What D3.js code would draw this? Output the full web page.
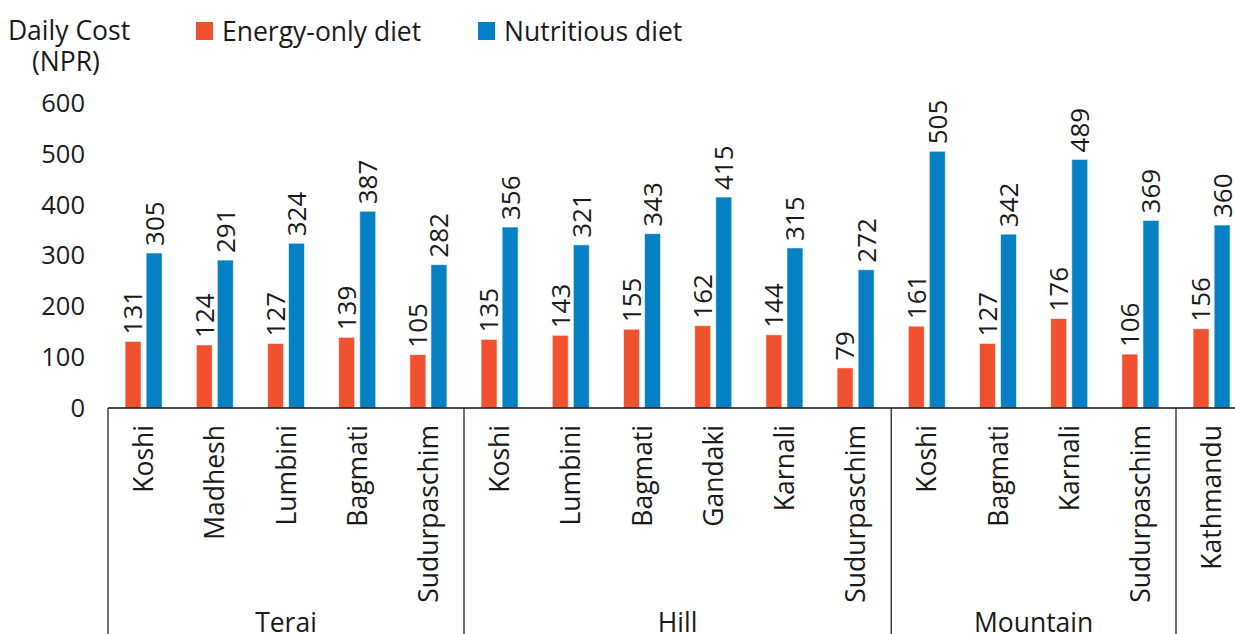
<!DOCTYPE html>
<html>
<head>
<meta charset="utf-8">
<script src="https://cdn.jsdelivr.net/npm/d3@7"></script>
<style>
  body { margin: 0; background: #fff; }
  svg { display: block; font-family: 'Open Sans', 'Noto Sans', sans-serif; }
  text { fill: #1a1a1a; }
</style>
</head>
<body>
<svg width="1235" height="634"></svg>
<script>
  const groups = ['Terai', 'Hill', 'Mountain', ''];
  const groupSizes = [5, 6, 4, 1];
  const regions = [
    'Koshi', 'Madhesh', 'Lumbini', 'Bagmati', 'Sudurpaschim',
    'Koshi', 'Lumbini', 'Bagmati', 'Gandaki', 'Karnali', 'Sudurpaschim',
    'Koshi', 'Bagmati', 'Karnali', 'Sudurpaschim',
    'Kathmandu'
  ];
  const energyOnly = [131, 124, 127, 139, 105, 135, 143, 155, 162, 144, 79, 161, 127, 176, 106, 156];
  const nutritious = [305, 291, 324, 387, 282, 356, 321, 343, 415, 315, 272, 505, 342, 489, 369, 360];
  const yTicks = [0, 100, 200, 300, 400, 500, 600];

  const seriesKeys = ['energy', 'nutritious'];
  const seriesNames = { energy: 'Energy-only diet', nutritious: 'Nutritious diet' };
  const colors = { energy: '#f0522f', nutritious: '#0580c4' };

  const svg = d3.select('svg');
  const margin = { left: 108, top: 103, baseline: 408 };
  const catStep = 71.2;
  const fontSize = 26.5;

  const data = regions.map((r, i) => ({
    id: i,
    region: r,
    energy: energyOnly[i],
    nutritious: nutritious[i]
  }));

  const x0 = d3.scaleBand()
    .domain(data.map(d => d.id))
    .range([margin.left, margin.left + catStep * data.length])
    .padding(0);

  const x1 = d3.scaleBand()
    .domain(seriesKeys)
    .range([0, x0.bandwidth()])
    .paddingInner(0.24)
    .paddingOuter(0.81);

  const y = d3.scaleLinear()
    .domain([0, 600])
    .range([margin.baseline, margin.top]);

  // y tick labels (no axis line)
  svg.append('g').selectAll('text').data(yTicks)
    .enter().append('text')
    .attr('x', 85)
    .attr('y', d => y(d))
    .attr('dy', '0.35em')
    .attr('text-anchor', 'end')
    .attr('font-size', 25.5)
    .text(d => d);

  // axis title
  svg.append('text')
    .attr('x', 69).attr('y', 40)
    .attr('text-anchor', 'middle')
    .attr('font-size', fontSize)
    .text('Daily Cost');
  svg.append('text')
    .attr('x', 66).attr('y', 71)
    .attr('text-anchor', 'middle')
    .attr('font-size', fontSize)
    .text('(NPR)');

  // legend
  const legendPos = [{ key: 'energy', x: 196 }, { key: 'nutritious', x: 478 }];
  const legend = svg.append('g').selectAll('g').data(legendPos)
    .enter().append('g')
    .attr('transform', d => `translate(${d.x}, 22)`);
  legend.append('rect')
    .attr('width', 17).attr('height', 18)
    .attr('fill', d => colors[d.key]);
  legend.append('text')
    .attr('x', 26).attr('y', 18.5)
    .attr('font-size', fontSize)
    .text(d => seriesNames[d.key]);

  // bars
  const cat = svg.append('g').selectAll('g').data(data)
    .enter().append('g')
    .attr('transform', d => `translate(${x0(d.id)}, 0)`);

  const bars = cat.selectAll('g').data(d => seriesKeys.map(k => ({ key: k, value: d[k] })))
    .enter().append('g');

  bars.append('rect')
    .attr('x', d => x1(d.key))
    .attr('width', x1.bandwidth())
    .attr('y', d => y(d.value))
    .attr('height', d => y(0) - y(d.value))
    .attr('fill', d => colors[d.key])
    .attr('stroke', '#ffffff')
    .attr('stroke-opacity', 0.6)
    .attr('stroke-width', 1);

  bars.append('text')
    .attr('transform', d => `translate(${x1(d.key) + x1.bandwidth() / 2}, ${y(d.value) - 7}) rotate(-90)`)
    .attr('dy', '0.36em')
    .attr('font-size', 26)
    .text(d => d.value);

  // category labels
  cat.append('text')
    .attr('transform', `translate(${x0.bandwidth() / 2}, 425) rotate(-90)`)
    .attr('dy', '0.36em')
    .attr('text-anchor', 'end')
    .attr('font-size', fontSize)
    .text(d => d.region);

  // baseline and group separators
  svg.append('line')
    .attr('x1', margin.left).attr('x2', 1235)
    .attr('y1', margin.baseline).attr('y2', margin.baseline)
    .attr('stroke', '#111').attr('stroke-width', 1.5);

  let start = 0;
  const groupBounds = groups.map((g, i) => {
    const b = { name: g, from: start, to: start + groupSizes[i] };
    start += groupSizes[i];
    return b;
  });

  const sepIdx = [0].concat(groupBounds.map(b => b.to));
  svg.append('g').selectAll('line').data(sepIdx)
    .enter().append('line')
    .attr('x1', d => d < data.length ? x0(d) : x0(d - 1) + x0.bandwidth())
    .attr('x2', d => d < data.length ? x0(d) : x0(d - 1) + x0.bandwidth())
    .attr('y1', margin.baseline).attr('y2', 634)
    .attr('stroke', '#111').attr('stroke-width', 1.2);

  svg.append('g').selectAll('text').data(groupBounds.filter(b => b.name))
    .enter().append('text')
    .attr('x', d => (x0(d.from) + x0(d.to - 1) + x0.bandwidth()) / 2)
    .attr('y', 632)
    .attr('text-anchor', 'middle')
    .attr('font-size', fontSize)
    .text(d => d.name);
</script>
</body>
</html>
